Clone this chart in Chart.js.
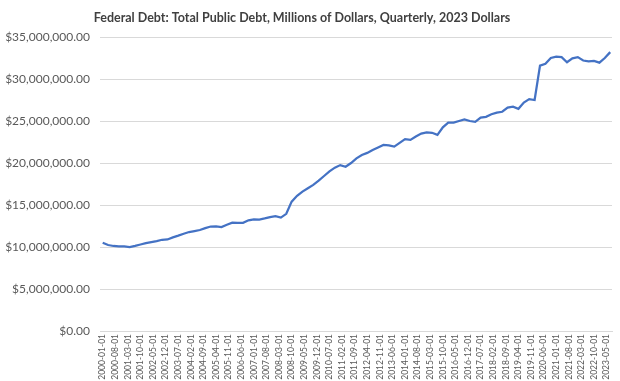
<!DOCTYPE html>
<html>
<head>
<meta charset="utf-8">
<script src="https://cdn.jsdelivr.net/npm/chart.js@4/dist/chart.umd.min.js"></script>
<style>
html,body{margin:0;padding:0;background:#ffffff;}
canvas{display:block;}
</style>
</head>
<body>
<canvas id="c" width="620" height="381"></canvas>
<script>
const chartTitle = 'Federal Debt: Total Public Debt, Millions of Dollars, Quarterly, 2023 Dollars';
const firstQuarter = '2000-01-01';
// Quarterly values, millions of 2023 dollars
const debtValues = [
  10500000, 10240000, 10120000, 10080000, 10060000, 10000000, 10140000, 10300000,
  10460000, 10580000, 10700000, 10860000, 10900000, 11150000, 11350000, 11580000,
  11780000, 11900000, 12020000, 12250000, 12440000, 12450000, 12380000, 12650000,
  12900000, 12870000, 12880000, 13180000, 13300000, 13270000, 13400000, 13550000,
  13680000, 13500000, 13950000, 15400000, 16100000, 16600000, 17000000, 17400000,
  17900000, 18450000, 19000000, 19450000, 19750000, 19550000, 20000000, 20550000,
  20950000, 21200000, 21550000, 21850000, 22150000, 22100000, 21950000, 22400000,
  22850000, 22750000, 23150000, 23500000, 23650000, 23600000, 23350000, 24250000,
  24800000, 24800000, 25000000, 25200000, 25000000, 24900000, 25400000, 25500000,
  25800000, 26000000, 26100000, 26600000, 26700000, 26450000, 27200000, 27600000,
  27500000, 31600000, 31800000, 32500000, 32650000, 32600000, 32000000, 32450000,
  32600000, 32200000, 32100000, 32150000, 31950000, 32500000, 33200000
];
const xTickLabels = [
  '2000-01-01','2000-08-01','2001-03-01','2001-10-01','2002-05-01','2002-12-01','2003-07-01',
  '2004-02-01','2004-09-01','2005-04-01','2005-11-01','2006-06-01','2007-01-01','2007-08-01',
  '2008-03-01','2008-10-01','2009-05-01','2009-12-01','2010-07-01','2011-02-01','2011-09-01',
  '2012-04-01','2012-11-01','2013-06-01','2014-01-01','2014-08-01','2015-03-01','2015-10-01',
  '2016-05-01','2016-12-01','2017-07-01','2018-02-01','2018-09-01','2019-04-01','2019-11-01',
  '2020-06-01','2021-01-01','2021-08-01','2022-03-01','2022-10-01','2023-05-01'
];
const yTickValues = [0, 5000000, 10000000, 15000000, 20000000, 25000000, 30000000, 35000000];

function monthIndex(s) {
  const p = s.split('-');
  return (parseInt(p[0], 10) - 2000) * 12 + (parseInt(p[1], 10) - 1);
}
const startMonth = monthIndex(firstQuarter);
const quarterDates = debtValues.map((v, i) => {
  const m = startMonth + i * 3;
  const y = 2000 + Math.floor(m / 12);
  const mo = (m % 12) + 1;
  return y + '-' + String(mo).padStart(2, '0') + '-01';
});
const points = debtValues.map((v, i) => ({ x: monthIndex(quarterDates[i]), y: v }));
const labelByMonth = {};
xTickLabels.forEach(s => { labelByMonth[monthIndex(s)] = s; });

const FONT = 'Lato, "Open Sans", sans-serif';

new Chart(document.getElementById('c'), {
  type: 'line',
  data: {
    datasets: [{
      label: 'Federal Debt',
      data: points,
      borderColor: '#4472C4',
      borderWidth: 2.25,
      pointRadius: 0,
      pointHoverRadius: 0,
      tension: 0,
      fill: false
    }]
  },
  options: {
    responsive: false,
    animation: false,
    devicePixelRatio: 1,
    layout: { padding: { left: -8, right: 8, top: 0, bottom: 0 } },
    plugins: {
      legend: { display: false },
      tooltip: { enabled: false },
      title: {
        display: true,
        text: chartTitle,
        color: '#404040',
        font: { family: FONT, size: 12.5, weight: 'bold' },
        padding: { top: 10, bottom: 12 }
      }
    },
    scales: {
      x: {
        type: 'linear',
        min: -1.5,
        max: 283,
        grid: { display: false, drawTicks: false },
        border: { display: true, color: '#d9d9d9', width: 1 },
        afterBuildTicks: s => { s.ticks = xTickLabels.map(l => ({ value: monthIndex(l) })); },
        afterFit: s => { s.height = 50; },
        ticks: {
          autoSkip: false,
          maxRotation: 90,
          minRotation: 90,
          padding: 3,
          color: '#595959',
          font: { family: FONT, size: 8.5 },
          callback: v => labelByMonth[v] || ''
        }
      },
      y: {
        min: 0,
        max: 35000000,
        afterBuildTicks: s => { s.ticks = yTickValues.map(v => ({ value: v })); },
        afterFit: s => { s.width = 108; },
        grid: { color: '#d9d9d9', lineWidth: 1, drawTicks: false },
        border: { display: false },
        ticks: {
          padding: 10,
          color: '#595959',
          font: { family: FONT, size: 12 },
          callback: v => '$' + Number(v).toLocaleString('en-US', { minimumFractionDigits: 2, maximumFractionDigits: 2 })
        }
      }
    }
  }
});
</script>
</body>
</html>
